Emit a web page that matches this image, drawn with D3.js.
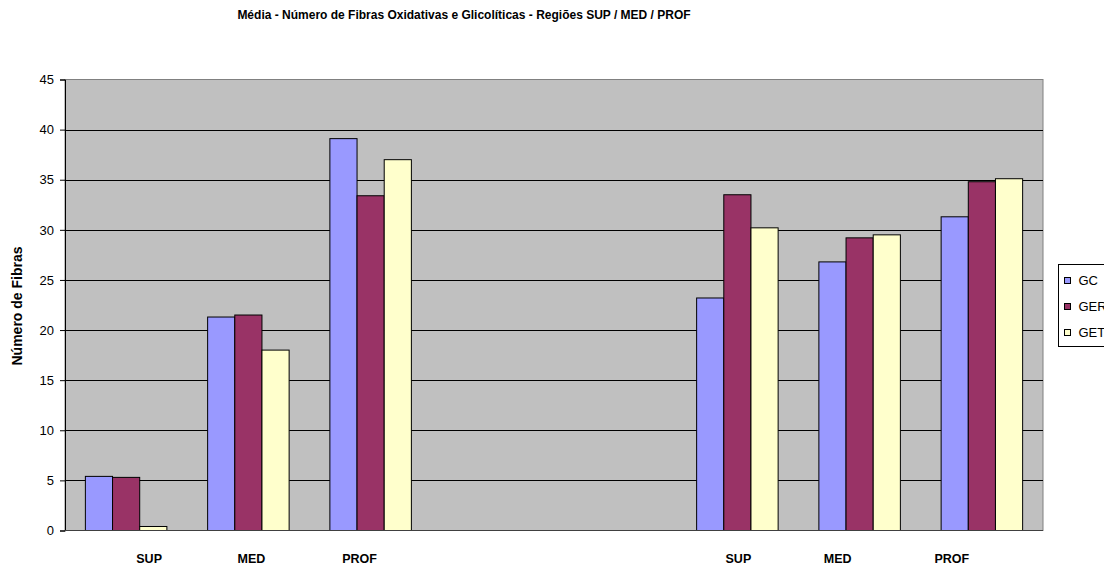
<!DOCTYPE html>
<html lang="pt">
<head>
  <meta charset="UTF-8">
  <title>Média - Número de Fibras</title>
  <script src="https://d3js.org/d3.v7.min.js"></script>
  <style>
    body { margin: 0; background: #fff; }
    svg { display: block; font-family: "Liberation Sans", Arial, sans-serif; }
    .grid line { stroke: #000; stroke-width: 1px; }
    .bar { stroke: #000; stroke-width: 1px; }
    .tick text { font-size: 13px; fill: #000; }
  </style>
</head>
<body>
  <svg id="chart" width="1104" height="566"></svg>

  <script>
    // data
    const categories = ["SUP", "MED", "PROF", "", "", "SUP", "MED", "PROF"];
    const series = ["GC", "GER", "GET"];
    const gcValues  = [5.4, 21.3, 39.1, null, null, 23.2, 26.8, 31.3];
    const gerValues = [5.3, 21.5, 33.4, null, null, 33.5, 29.2, 34.8];
    const getValues = [0.4, 18.0, 37.0, null, null, 30.2, 29.5, 35.1];
    const yTicks = [0, 5, 10, 15, 20, 25, 30, 35, 40, 45];

    const colors = { GC: "#9999FF", GER: "#993366", GET: "#FFFFCC" };
    // the category labels sit a bit off the bar groups in the original
    const labelShift = [23, 3, -11, 0, 0, 1, -22, -30];

    const svg = d3.select("#chart");
    const plot = { left: 65, right: 1043, top: 79.5, bottom: 530.5 };

    const rows = categories.map((c, i) => ({
      idx: i, label: c,
      GC: gcValues[i], GER: gerValues[i], GET: getValues[i]
    }));

    const x = d3.scaleBand()
      .domain(d3.range(categories.length))
      .range([plot.left, plot.right])
      .padding(0);

    // Excel style: gap width 150% of one bar
    const barW = x.bandwidth() / (series.length + 1.5);
    const xs = d3.scaleBand()
      .domain(series)
      .range([barW * 0.75, barW * 0.75 + barW * series.length]);

    const y = d3.scaleLinear().domain([0, 45]).range([plot.bottom, plot.top]);

    // plot background
    svg.append("rect")
      .attr("x", plot.left).attr("y", plot.top)
      .attr("width", plot.right - plot.left)
      .attr("height", plot.bottom - plot.top)
      .attr("fill", "#C0C0C0")
      .attr("stroke", "#808080");

    // gridlines
    svg.append("g").attr("class", "grid")
      .selectAll("line")
      .data(yTicks.filter(t => t > 0 && t < 45))
      .join("line")
      .attr("x1", plot.left).attr("x2", plot.right)
      .attr("y1", d => Math.round(y(d)) + 0.5)
      .attr("y2", d => Math.round(y(d)) + 0.5);

    // bars
    const group = svg.append("g")
      .selectAll("g")
      .data(rows)
      .join("g")
      .attr("transform", d => `translate(${x(d.idx)},0)`);

    group.selectAll("rect")
      .data(d => series.filter(s => d[s] != null).map(s => ({ key: s, value: d[s] })))
      .join("rect")
      .attr("class", "bar")
      .attr("x", d => xs(d.key))
      .attr("y", d => y(d.value))
      .attr("width", xs.bandwidth())
      .attr("height", d => y(0) - y(d.value))
      .attr("fill", d => colors[d.key]);

    // y axis
    const yAxis = svg.append("g")
      .attr("transform", `translate(${plot.left},0)`)
      .call(d3.axisLeft(y).tickValues(yTicks).tickSize(5).tickPadding(6));
    yAxis.select(".domain").attr("stroke", "#000");
    yAxis.selectAll(".tick line").attr("stroke", "#000");

    // x axis baseline
    svg.append("line")
      .attr("x1", plot.left).attr("x2", plot.right)
      .attr("y1", y(0)).attr("y2", y(0))
      .attr("stroke", "#404040");

    // category labels
    svg.append("g")
      .selectAll("text")
      .data(rows.filter(d => d.label))
      .join("text")
      .attr("x", d => x(d.idx) + x.bandwidth() / 2 + labelShift[d.idx])
      .attr("y", 563)
      .attr("text-anchor", "middle")
      .attr("font-size", "12.5px")
      .attr("font-weight", "bold")
      .text(d => d.label);

    // y title
    svg.append("text")
      .attr("transform", "translate(22,306) rotate(-90)")
      .attr("text-anchor", "middle")
      .attr("font-size", "14px")
      .attr("font-weight", "bold")
      .text("Número de Fibras");

    // chart title
    svg.append("text")
      .attr("x", 464).attr("y", 19)
      .attr("text-anchor", "middle")
      .attr("font-size", "12px")
      .attr("font-weight", "bold")
      .text("Média - Número de Fibras Oxidativas e Glicolíticas - Regiões SUP / MED / PROF");

    // legend (runs off the right edge like the original)
    const legend = svg.append("g").attr("transform", "translate(1058.5,264.5)");
    legend.append("rect")
      .attr("width", 80).attr("height", 82)
      .attr("fill", "#fff").attr("stroke", "#000");
    const item = legend.selectAll("g")
      .data(series)
      .join("g")
      .attr("transform", (d, i) => `translate(6,${16 + i * 26})`);
    item.append("rect")
      .attr("width", 6).attr("height", 6).attr("y", -3)
      .attr("fill", d => colors[d]).attr("stroke", "#000");
    item.append("text")
      .attr("x", 14).attr("dy", "0.35em")
      .attr("font-size", "13px")
      .text(d => d);
  </script>
</body>
</html>
